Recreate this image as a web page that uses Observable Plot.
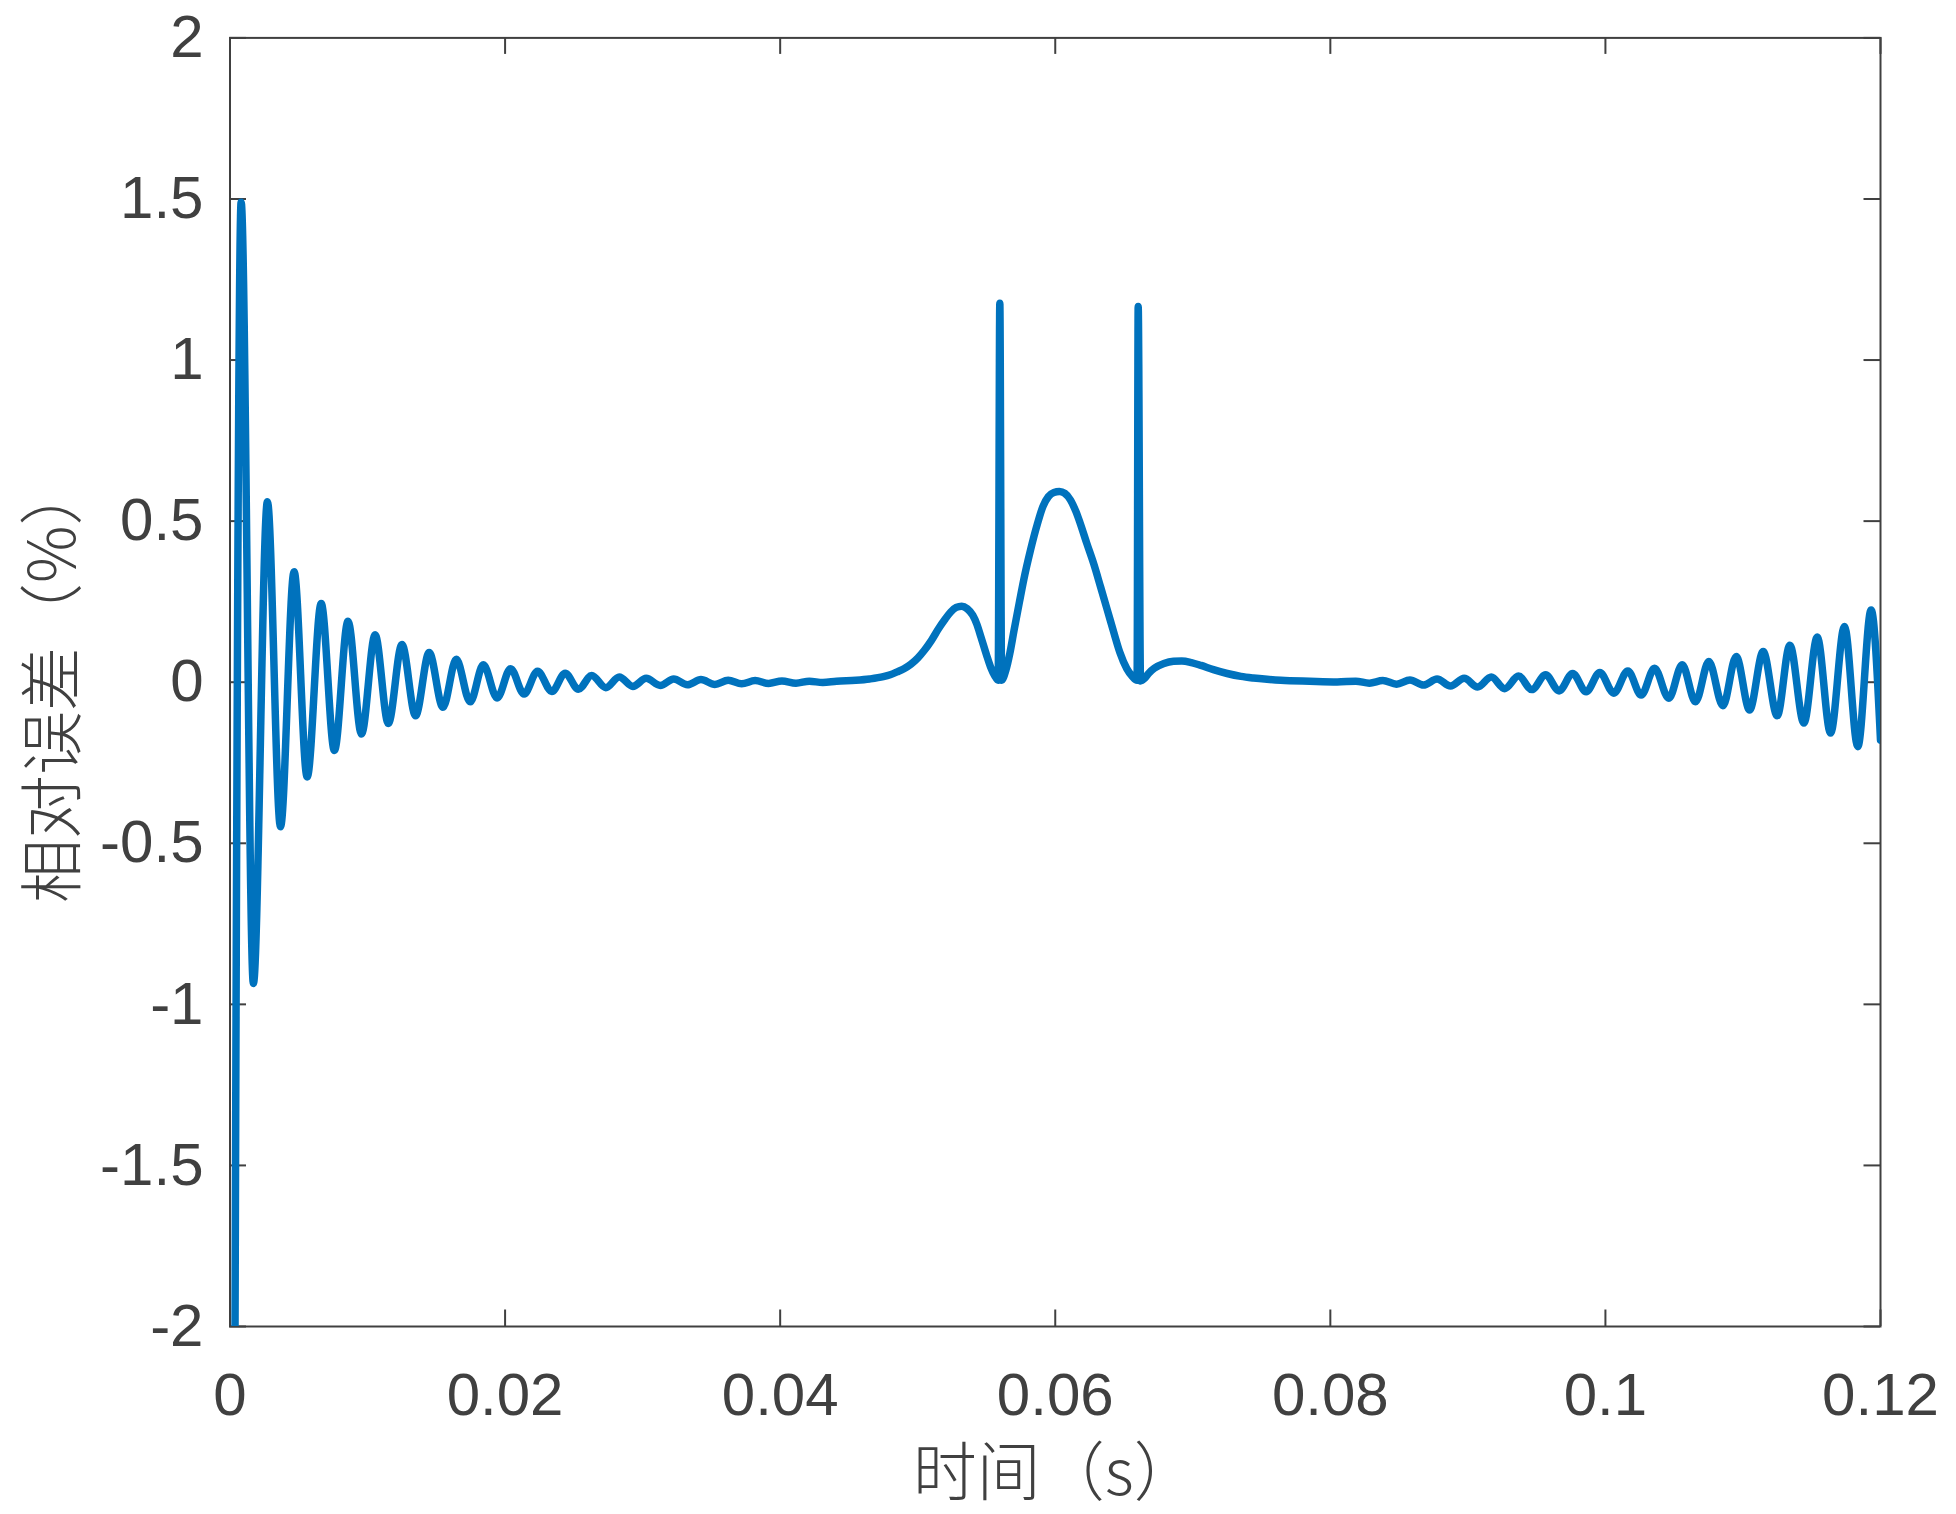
<!DOCTYPE html>
<html>
<head>
<meta charset="utf-8">
<script src="https://cdn.jsdelivr.net/npm/d3@7"></script>
<script src="https://cdn.jsdelivr.net/npm/@observablehq/plot@0.6"></script>
<style>
  html, body { margin: 0; padding: 0; background: #ffffff; }
</style>
</head>
<body>
<div id="chart"></div>
<script>
// ---- data (time in s, relative error in %) ----
const time = [
  0.0001, 0.00081, 0.0017, 0.00272, 0.00367, 0.00466, 0.00561, 0.00663, 0.00759, 0.00858,
  0.00956, 0.01055, 0.01151, 0.0125, 0.01349, 0.01448, 0.01548, 0.01645, 0.01746, 0.01842,
  0.01942, 0.0204, 0.02138, 0.02236, 0.0234, 0.02437, 0.02533, 0.0263, 0.02732, 0.0283,
  0.02929, 0.03026, 0.03128, 0.03226, 0.03326, 0.03424, 0.03525, 0.03622, 0.0372, 0.03818,
  0.03916, 0.04013, 0.04115, 0.04212, 0.0431, 0.0441, 0.0455, 0.0465, 0.0475, 0.048,
  0.0485, 0.049, 0.0495, 0.05, 0.0505, 0.051, 0.0515, 0.052, 0.0524, 0.0528,
  0.0532, 0.0536, 0.054, 0.0543, 0.0546, 0.055, 0.0553, 0.0556, 0.05585, 0.05597,
  0.0561, 0.0564, 0.0567, 0.057, 0.0574, 0.0577, 0.0582, 0.0587, 0.0591, 0.0595,
  0.0599, 0.0603, 0.0607, 0.0611, 0.0615, 0.0618, 0.0623, 0.0628, 0.0633, 0.0638,
  0.0643, 0.0647, 0.0652, 0.0656, 0.06595, 0.06603, 0.0662, 0.0665, 0.0668, 0.0672,
  0.0679, 0.0686, 0.0692, 0.0699, 0.0706, 0.0715, 0.0725, 0.0735, 0.0744, 0.0754,
  0.0764, 0.0785, 0.0805, 0.08185, 0.08284, 0.08382, 0.08481, 0.08579, 0.08677, 0.08776,
  0.08874, 0.08973, 0.09071, 0.0917, 0.09268, 0.09368, 0.09465, 0.09565, 0.09663, 0.09762,
  0.0986, 0.09959, 0.10061, 0.10163, 0.1026, 0.10357, 0.10461, 0.10558, 0.10655, 0.10752,
  0.10854, 0.10951, 0.11048, 0.11147, 0.11249, 0.11341, 0.11443, 0.1154, 0.11637, 0.11738,
  0.11835, 0.11932, 0.12
];
const relError = [
  -6, 1.49, -0.935, 0.56, -0.449, 0.343, -0.294, 0.244, -0.212, 0.189,
  -0.161, 0.147, -0.128, 0.117, -0.104, 0.092, -0.078, 0.071, -0.061, 0.054,
  -0.049, 0.042, -0.037, 0.034, -0.029, 0.028, -0.022, 0.021, -0.017, 0.016,
  -0.013, 0.012, -0.010, 0.010, -0.008, 0.008, -0.007, 0.006, -0.005, 0.005,
  -0.004, 0.004, -0.003, 0.003, -0.001, 0.003, 0.006, 0.010, 0.017, 0.023,
  0.032, 0.042, 0.056, 0.075, 0.10, 0.13, 0.165, 0.196, 0.218, 0.232,
  0.236, 0.228, 0.208, 0.18, 0.14, 0.085, 0.047, 0.02, 0.006, 1.176,
  0.006, 0.036, 0.09, 0.16, 0.25, 0.316, 0.41, 0.491, 0.545, 0.576,
  0.589, 0.592, 0.586, 0.566, 0.53, 0.495, 0.43, 0.367, 0.295, 0.222,
  0.148, 0.092, 0.042, 0.018, 0.006, 1.166, 0.004, 0.012, 0.028, 0.043,
  0.058, 0.065, 0.066, 0.061, 0.052, 0.039, 0.027, 0.018, 0.013, 0.009,
  0.006, 0.003, 0.001, 0.003, -0.003, 0.005, -0.006, 0.007, -0.009, 0.010,
  -0.012, 0.012, -0.015, 0.016, -0.020, 0.019, -0.023, 0.023, -0.027, 0.027,
  -0.030, 0.030, -0.034, 0.035, -0.040, 0.043, -0.050, 0.054, -0.061, 0.064,
  -0.073, 0.080, -0.086, 0.095, -0.104, 0.115, -0.127, 0.140, -0.158, 0.173,
  -0.200, 0.224, -0.18
];
const xTicks = [0, 0.02, 0.04, 0.06, 0.08, 0.1, 0.12];
const yTicks = [-2, -1.5, -1, -0.5, 0, 0.5, 1, 1.5, 2];
const xTitle = "时间（s）";
const yTitle = "相对误差（%）";

// ---- layout ----
const W = 1956, H = 1514;
const mL = 229.5, mR = 76, mT = 37.4, mB = 188;
const frameW = W - mL - mR, frameH = H - mT - mB;
const tickLen = 16.5;
const ink = "#404040";
const titleFont = "'Noto Sans CJK SC', 'Liberation Sans', sans-serif";

const rows = time.map((t, i) => ({t, e: relError[i]}));

const chart = Plot.plot({
  width: W,
  height: H,
  marginLeft: mL,
  marginRight: mR,
  marginTop: mT,
  marginBottom: mB,
  style: {fontFamily: "'Liberation Sans', Arial, Helvetica, sans-serif", fontSize: "60px", color: ink, background: "#ffffff"},
  x: {domain: [0, 0.12], label: null},
  y: {domain: [-2, 2], label: null},
  marks: [
    Plot.frame({stroke: ink, strokeWidth: 2}),
    // inward ticks on all four sides
    Plot.tickX(xTicks, {x: d => d, insetTop: frameH - tickLen, stroke: ink, strokeWidth: 2}),
    Plot.tickX(xTicks, {x: d => d, insetBottom: frameH - tickLen, stroke: ink, strokeWidth: 2}),
    Plot.tickY(yTicks, {y: d => d, insetRight: frameW - tickLen, stroke: ink, strokeWidth: 2}),
    Plot.tickY(yTicks, {y: d => d, insetLeft: frameW - tickLen, stroke: ink, strokeWidth: 2}),
    Plot.axisX({ticks: xTicks, tickSize: 0, tickPadding: 46, tickFormat: d => String(d), fontSize: 60, fill: ink}),
    Plot.axisY({ticks: yTicks, tickSize: 0, tickPadding: 26.5, tickFormat: d => String(d), fontSize: 60, fill: ink}),
    Plot.line(rows, {
      x: "t", y: "e",
      stroke: "#0072BD", strokeWidth: 7.5,
      curve: "monotone-x", clip: true,
      strokeLinejoin: "round", strokeLinecap: "round"
    }),
    Plot.text([xTitle], {
      text: d => d, frameAnchor: "bottom", textAnchor: "middle", dy: 148.5, lineAnchor: "middle",
      fontSize: 64, fontFamily: titleFont, fontWeight: 300, fill: ink
    }),
    Plot.text([yTitle], {
      text: d => d, frameAnchor: "left", textAnchor: "middle", dx: -175, rotate: -90, lineAnchor: "middle",
      fontSize: 64, fontFamily: titleFont, fontWeight: 300, fill: ink
    })
  ]
});
document.getElementById("chart").appendChild(chart);
</script>
</body>
</html>
